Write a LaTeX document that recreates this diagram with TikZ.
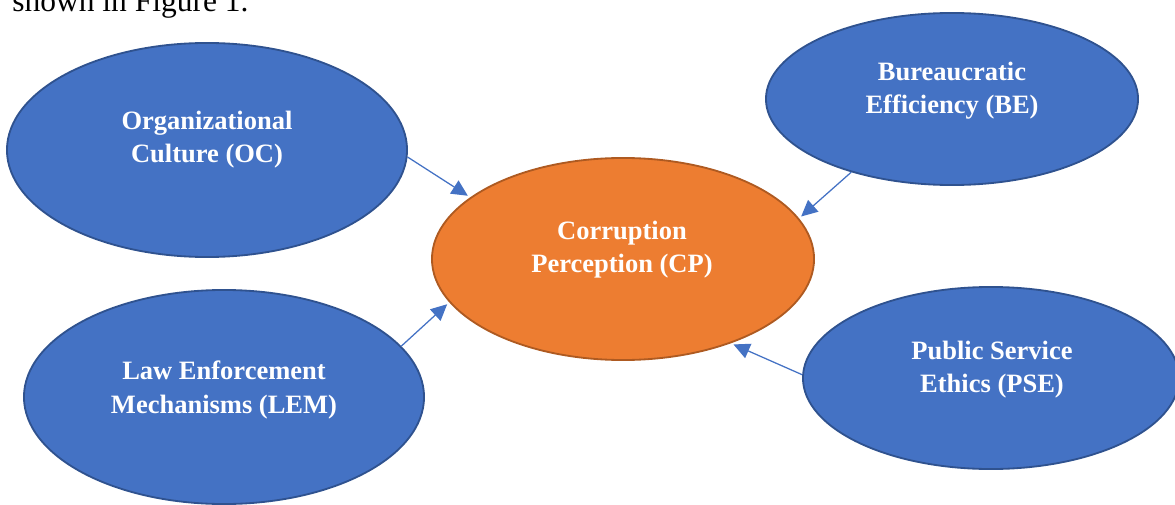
\documentclass[tikz,border=0pt]{standalone}
\usepackage{fontspec}
\setmainfont{Liberation Serif}
\usetikzlibrary{shapes.geometric,arrows.meta}

\definecolor{facblue}{HTML}{4472C4}
\definecolor{facline}{HTML}{2F528F}
\definecolor{cporange}{HTML}{ED7D31}
\definecolor{cpline}{HTML}{AE5A21}

\begin{document}
\begin{tikzpicture}[x=0.025cm,y=-0.025cm,
    factor/.style={ellipse,draw=facline,fill=facblue,line width=1.3pt,inner sep=0pt},
    outcome/.style={ellipse,draw=cpline,fill=cporange,line width=1.3pt,inner sep=0pt},
    lbl/.style={text=white,align=center,inner sep=0pt,font=\bfseries\fontsize{18.85}{23.5}\selectfont},
    link/.style={draw=facblue,line width=0.9pt,-{Triangle[length=11.5pt,width=11pt]},shorten >=2pt}]
  \useasboundingbox (0,0) rectangle (1175,505);
  \clip (0,0) rectangle (1175,505);

  \node[anchor=base west,inner sep=0pt,font=\fontsize{22.4}{27}\selectfont] (intro) at (12,12) {shown in Figure 1.};

  % ellipses
  \node[factor,minimum width=10cm,minimum height=5.35cm] (oc) at (207,150) {};
  \node[factor,minimum width=9.3cm,minimum height=4.3cm] (be) at (952,99) {};
  \node[outcome,minimum width=9.55cm,minimum height=5.05cm] (cp) at (623,259) {};
  \node[factor,minimum width=10cm,minimum height=5.35cm] (lem) at (224,397) {};
  \node[factor,minimum width=9.4cm,minimum height=4.55cm] (pse) at (991,378) {};

  % texts
  \node[lbl] (oclbl) at (207,140) {Organizational\\Culture (OC)};
  \node[lbl] (belbl) at (952,91) {Bureaucratic\\Efficiency (BE)};
  \node[lbl] (cplbl) at (622,250) {Corruption\\Perception (CP)};
  \node[lbl] (lemlbl) at (224,390) {Law Enforcement\\Mechanisms (LEM)};
  \node[lbl] (pselbl) at (992,370) {Public Service\\Ethics (PSE)};

  % arrows
  \path[link] (oc.-2) -- (cp.158);
  \path[link] (lem.16) -- (cp.-166);
  \path[link] (be.-144) -- (cp.13);
  \path[link] (pse.179) -- (cp.-38);
\end{tikzpicture}
\end{document}
